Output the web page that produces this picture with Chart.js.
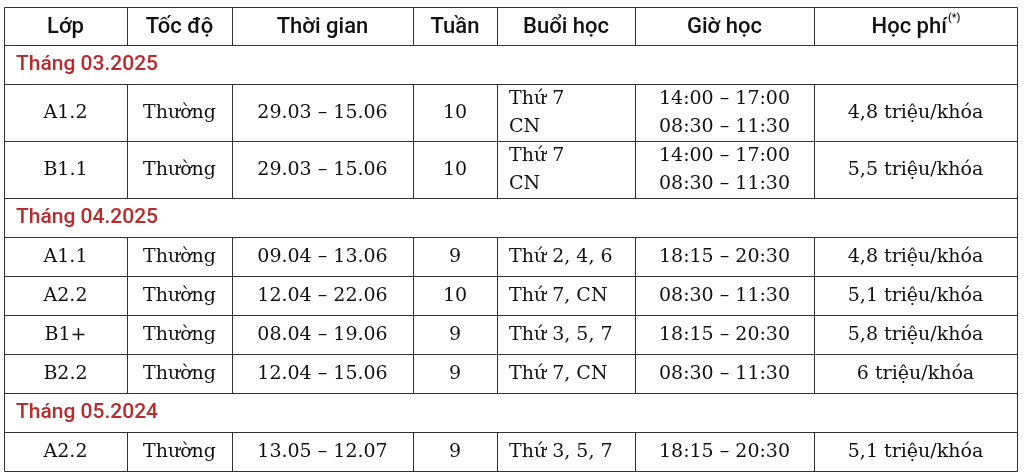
<!DOCTYPE html>
<html>
<head>
<meta charset="utf-8">
<script src="https://cdn.jsdelivr.net/npm/chart.js@4/dist/chart.umd.min.js"></script>
<style>
  html, body { margin: 0; padding: 0; background: #fff; }
</style>
</head>
<body>
<canvas id="chart" width="1024" height="476"></canvas>
<script>
// table content
const headers = ['Lớp', 'Tốc độ', 'Thời gian', 'Tuần', 'Buổi học', 'Giờ học', 'Học phí'];
const sections = ['Tháng 03.2025', 'Tháng 04.2025', 'Tháng 05.2024'];
const sectionOf = [0, 0, 1, 1, 1, 1, 2];
const classes = ['A1.2', 'B1.1', 'A1.1', 'A2.2', 'B1+', 'B2.2', 'A2.2'];
const speeds = ['Thường', 'Thường', 'Thường', 'Thường', 'Thường', 'Thường', 'Thường'];
const periods = ['29.03 – 15.06', '29.03 – 15.06', '09.04 – 13.06', '12.04 – 22.06', '08.04 – 19.06', '12.04 – 15.06', '13.05 – 12.07'];
const weeks = [10, 10, 9, 10, 9, 9, 9];
const sessions = [['Thứ 7', 'CN'], ['Thứ 7', 'CN'], ['Thứ 2, 4, 6'], ['Thứ 7, CN'], ['Thứ 3, 5, 7'], ['Thứ 7, CN'], ['Thứ 3, 5, 7']];
const hours = [['14:00 – 17:00', '08:30 – 11:30'], ['14:00 – 17:00', '08:30 – 11:30'], ['18:15 – 20:30'], ['08:30 – 11:30'], ['18:15 – 20:30'], ['08:30 – 11:30'], ['18:15 – 20:30']];
const fees = ['4,8 triệu/khóa', '5,5 triệu/khóa', '4,8 triệu/khóa', '5,1 triệu/khóa', '5,8 triệu/khóa', '6 triệu/khóa', '5,1 triệu/khóa'];

// layout (scale units)
const colEdges = [4, 127, 232, 413, 497, 635, 814, 1017];
const tableTop = 7;
const headerH = 38;
const sectionH = 39;
const lineRowH = 39;
const twoLineRowH = 57;

const headFont = '500 22px Roboto';
const noteFont = '500 11px Roboto';
const sectionFont = '500 21px Roboto';
const bodyFont = '19px "DejaVu Serif"';
const redText = '#bb2a2c';
const lineColor = '#333';

function buildRows() {
  const rows = [{ type: 'header', h: headerH }];
  let last = -1;
  classes.forEach((c, i) => {
    if (sectionOf[i] !== last) {
      last = sectionOf[i];
      rows.push({ type: 'section', h: sectionH, label: sections[last] });
    }
    const n = Math.max(sessions[i].length, hours[i].length);
    rows.push({
      type: 'item', h: n > 1 ? twoLineRowH : lineRowH,
      cells: [[classes[i]], [speeds[i]], [periods[i]], [String(weeks[i])], sessions[i], hours[i], [fees[i]]]
    });
  });
  let top = tableTop;
  rows.forEach(r => { r.top = top; top += r.h; r.bottom = top; });
  return rows;
}

const tablePlugin = {
  id: 'tableDraw',
  afterDraw(chart) {
    const { ctx, scales: { x, y } } = chart;
    const rows = buildRows();
    const px = v => Math.round(x.getPixelForValue(v)) + 0.5;
    const py = v => Math.round(y.getPixelForValue(v)) + 0.5;
    const left = px(colEdges[0]), right = px(colEdges[colEdges.length - 1]);

    ctx.save();
    ctx.strokeStyle = lineColor;
    ctx.lineWidth = 1;
    ctx.beginPath();
    // horizontal rules
    ctx.moveTo(left, py(rows[0].top)); ctx.lineTo(right, py(rows[0].top));
    rows.forEach(r => { ctx.moveTo(left, py(r.bottom)); ctx.lineTo(right, py(r.bottom)); });
    // outer verticals
    const last = rows[rows.length - 1];
    ctx.moveTo(left, py(rows[0].top)); ctx.lineTo(left, py(last.bottom));
    ctx.moveTo(right, py(rows[0].top)); ctx.lineTo(right, py(last.bottom));
    // inner verticals, skipped on section rows
    rows.forEach(r => {
      if (r.type === 'section') return;
      for (let k = 1; k < colEdges.length - 1; k++) {
        ctx.moveTo(px(colEdges[k]), py(r.top));
        ctx.lineTo(px(colEdges[k]), py(r.bottom));
      }
    });
    ctx.stroke();

    ctx.textBaseline = 'middle';
    rows.forEach(r => {
      const cy = (y.getPixelForValue(r.top) + y.getPixelForValue(r.bottom)) / 2;
      if (r.type === 'header') {
        ctx.fillStyle = '#111';
        headers.forEach((h, k) => {
          const cx = (x.getPixelForValue(colEdges[k]) + x.getPixelForValue(colEdges[k + 1])) / 2;
          ctx.font = headFont;
          if (k === headers.length - 1) {
            // superscript note mark
            const w = ctx.measureText(h).width;
            ctx.font = noteFont;
            const sw = ctx.measureText('(*)').width;
            const sx = cx - (w + sw) / 2;
            ctx.textAlign = 'left';
            ctx.font = headFont;
            ctx.fillText(h, sx, cy + 1);
            ctx.font = noteFont;
            ctx.fillText('(*)', sx + w + 1, cy - 8);
          } else {
            ctx.textAlign = 'center';
            ctx.fillText(h, cx, cy + 1);
          }
        });
      } else if (r.type === 'section') {
        ctx.font = sectionFont;
        ctx.fillStyle = redText;
        ctx.textAlign = 'left';
        ctx.fillText(r.label, x.getPixelForValue(colEdges[0]) + 12, cy);
      } else {
        ctx.font = bodyFont;
        ctx.fillStyle = '#111';
        r.cells.forEach((lines, k) => {
          const x0 = x.getPixelForValue(colEdges[k]);
          const x1 = x.getPixelForValue(colEdges[k + 1]);
          const leftAligned = k === 4;
          ctx.textAlign = leftAligned ? 'left' : 'center';
          const tx = leftAligned ? x0 + 12 : (x0 + x1) / 2;
          const step = 28;
          const start = cy - (lines.length - 1) * step / 2;
          lines.forEach((t, j) => ctx.fillText(t, tx, start + j * step + 1));
        });
      }
    });
    ctx.restore();
  }
};

new Chart(document.getElementById('chart'), {
  type: 'scatter',
  data: { datasets: [{ data: [], pointRadius: 0 }] },
  options: {
    responsive: false,
    animation: false,
    layout: { padding: 0 },
    plugins: { legend: { display: false }, tooltip: { enabled: false } },
    scales: {
      x: { type: 'linear', min: 0, max: 1024, display: false },
      y: { type: 'linear', min: 0, max: 476, reverse: true, display: false }
    }
  },
  plugins: [tablePlugin]
});
</script>
</body>
</html>
